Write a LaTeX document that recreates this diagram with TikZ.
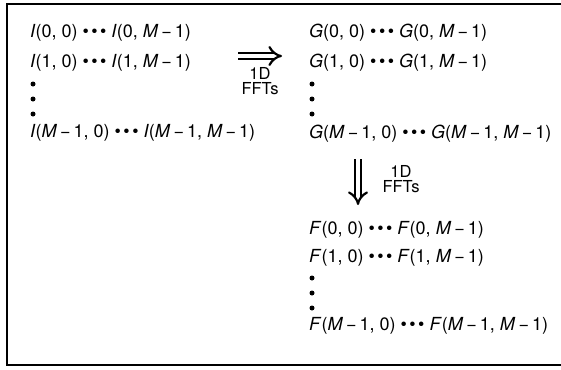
\documentclass[tikz,border=0pt]{standalone}
\usepackage{fontspec}
\setmainfont{TeX Gyre Heros}
\usetikzlibrary{arrows.meta}
\newcommand{\vI}{\textit{I}}
\newcommand{\vG}{\textit{G}}
\newcommand{\vF}{\textit{F}}
\newcommand{\vM}{\textit{M}\,−\,1}
\newcommand{\bul}{\hspace{5pt}•\hspace{2.5pt}•\hspace{2.5pt}•\hspace{5pt}}
\begin{document}
\begin{tikzpicture}[x=1pt,y=-1pt,
  entry/.style={anchor=west,inner sep=0pt,font=\fontsize{18}{19}\selectfont},
  lbl/.style={inner sep=0pt,font=\fontsize{16.5}{15}\selectfont,align=center},
  vdot/.style={fill,circle,inner sep=0pt,minimum size=5pt},
  bigarrow/.style={double,double distance=4.5pt,line width=2.2pt,-{Implies[length=9pt]}}]
\useasboundingbox (0,0) rectangle (561,369);
\draw[line width=1.5pt] (561,4) -- (7,4) -- (7,365) -- (561,365);
% I block
\node[entry] (i1) at (30,33) {\vI(0, 0)\bul\vI(0, \vM)};
\node[entry] (i2) at (30,63) {\vI(1, 0)\bul\vI(1, \vM)};
\node[vdot] (id1) at (33,84) {};
\node[vdot] (id2) at (33,99) {};
\node[vdot] (id3) at (33,114) {};
\node[entry] (i4) at (30,133) {\vI(\vM, 0)\bul\vI(\vM, \vM)};
% G block
\node[entry] (g1) at (309,33) {\vG(0, 0)\bul\vG(0, \vM)};
\node[entry] (g2) at (309,63) {\vG(1, 0)\bul\vG(1, \vM)};
\node[vdot] (gd1) at (312,84) {};
\node[vdot] (gd2) at (312,99) {};
\node[vdot] (gd3) at (312,114) {};
\node[entry] (g4) at (309,134) {\vG(\vM, 0)\bul\vG(\vM, \vM)};
% F block
\node[entry] (f1) at (309,230) {\vF(0, 0)\bul\vF(0, \vM)};
\node[entry] (f2) at (309,258) {\vF(1, 0)\bul\vF(1, \vM)};
\node[vdot] (fd1) at (312,278) {};
\node[vdot] (fd2) at (312,293) {};
\node[vdot] (fd3) at (312,308) {};
\node[entry] (f4) at (309,326) {\vF(\vM, 0)\bul\vF(\vM, \vM)};
% arrows
\coordinate (a1s) at (238,56);
\coordinate (a1e) at (282,56);
\draw[bigarrow] (a1s) -- (a1e);
\node[lbl] (l1) at (260,81) {1D\\FFTs};
\coordinate (a2s) at (358,159);
\coordinate (a2e) at (358,205);
\draw[bigarrow] (a2s) -- (a2e);
\node[lbl] (l2) at (401,179) {1D\\FFTs};
\end{tikzpicture}
\end{document}
